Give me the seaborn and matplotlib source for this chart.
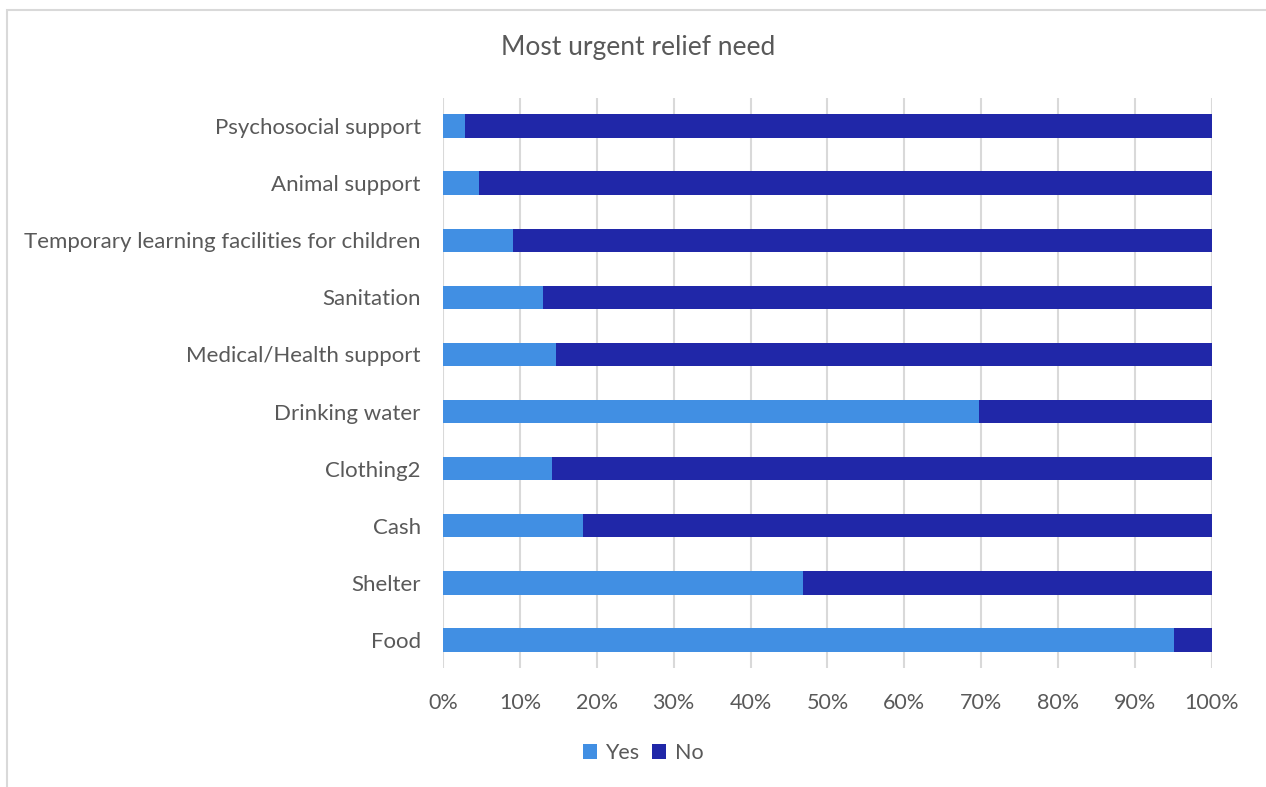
import matplotlib
matplotlib.use("Agg")
import matplotlib.pyplot as plt
from matplotlib.patches import Rectangle
from matplotlib.ticker import PercentFormatter, MultipleLocator
import seaborn as sns
import pandas as pd

# data (top to bottom)
needs = ["Psychosocial support", "Animal support",
         "Temporary learning facilities for children", "Sanitation",
         "Medical/Health support", "Drinking water", "Clothing2", "Cash",
         "Shelter", "Food"]
yes_pct = [2.9, 4.7, 9.1, 13.0, 14.7, 69.7, 14.2, 18.2, 46.8, 95.1]
no_pct = [100 - v for v in yes_pct]

YES_COLOR = "#418FE3"
NO_COLOR = "#2027A8"
TEXT_COLOR = "#595959"
GRID_COLOR = "#D9D9D9"

df = pd.DataFrame({"need": needs, "Yes": yes_pct, "No": no_pct})
df["total"] = df["Yes"] + df["No"]

sns.set_style("white")
plt.rcParams["font.family"] = ["Lato", "DejaVu Sans"]

fig = plt.figure(figsize=(12.66, 7.87), dpi=100)
ax = fig.add_axes([0.3499, 0.1506, 0.9573 - 0.3499, 0.8761 - 0.1506])

# stacked: full bar in "No" colour, then "Yes" drawn from zero on top
sns.barplot(data=df, x="total", y="need", orient="h", color=NO_COLOR,
            width=0.41, saturation=1, linewidth=0, ax=ax, label="No")
sns.barplot(data=df, x="Yes", y="need", orient="h", color=YES_COLOR,
            width=0.41, saturation=1, linewidth=0, ax=ax, label="Yes")

ax.set_xlim(0, 100)
ax.xaxis.set_major_locator(MultipleLocator(10))
ax.xaxis.set_major_formatter(PercentFormatter(decimals=0))
ax.set_xlabel("")
ax.set_ylabel("")
ax.grid(axis="x", color=GRID_COLOR, linewidth=1.5)
ax.set_axisbelow(True)
for s in ax.spines.values():
    s.set_visible(False)
ax.tick_params(length=0, labelcolor=TEXT_COLOR)
ax.tick_params(axis="y", pad=16, labelsize=16)
ax.tick_params(axis="x", pad=18, labelsize=15.5)

fig.text(0.504, 0.94, "Most urgent relief need", ha="center", va="center",
         fontsize=19, color=TEXT_COLOR)

handles, labels = ax.get_legend_handles_labels()
order = [labels.index("Yes"), labels.index("No")]
leg = fig.legend([handles[i] for i in order], [labels[i] for i in order],
                 loc="center", bbox_to_anchor=(0.508, 0.043), ncol=2,
                 frameon=False, fontsize=15.5, handlelength=0.65,
                 handleheight=0.65, handletextpad=0.4, columnspacing=0.6)
for t in leg.get_texts():
    t.set_color(TEXT_COLOR)
if ax.get_legend() is not None:
    ax.get_legend().remove()

# chart frame (Excel-style border running off the image)
fig.patches.append(Rectangle((7 / 1266, -0.1), 1.2, 1 - 10 / 787 + 0.1,
                             transform=fig.transFigure, fill=False,
                             edgecolor=GRID_COLOR, linewidth=1.5))

fig.savefig("out.png", dpi=100, facecolor="white")
